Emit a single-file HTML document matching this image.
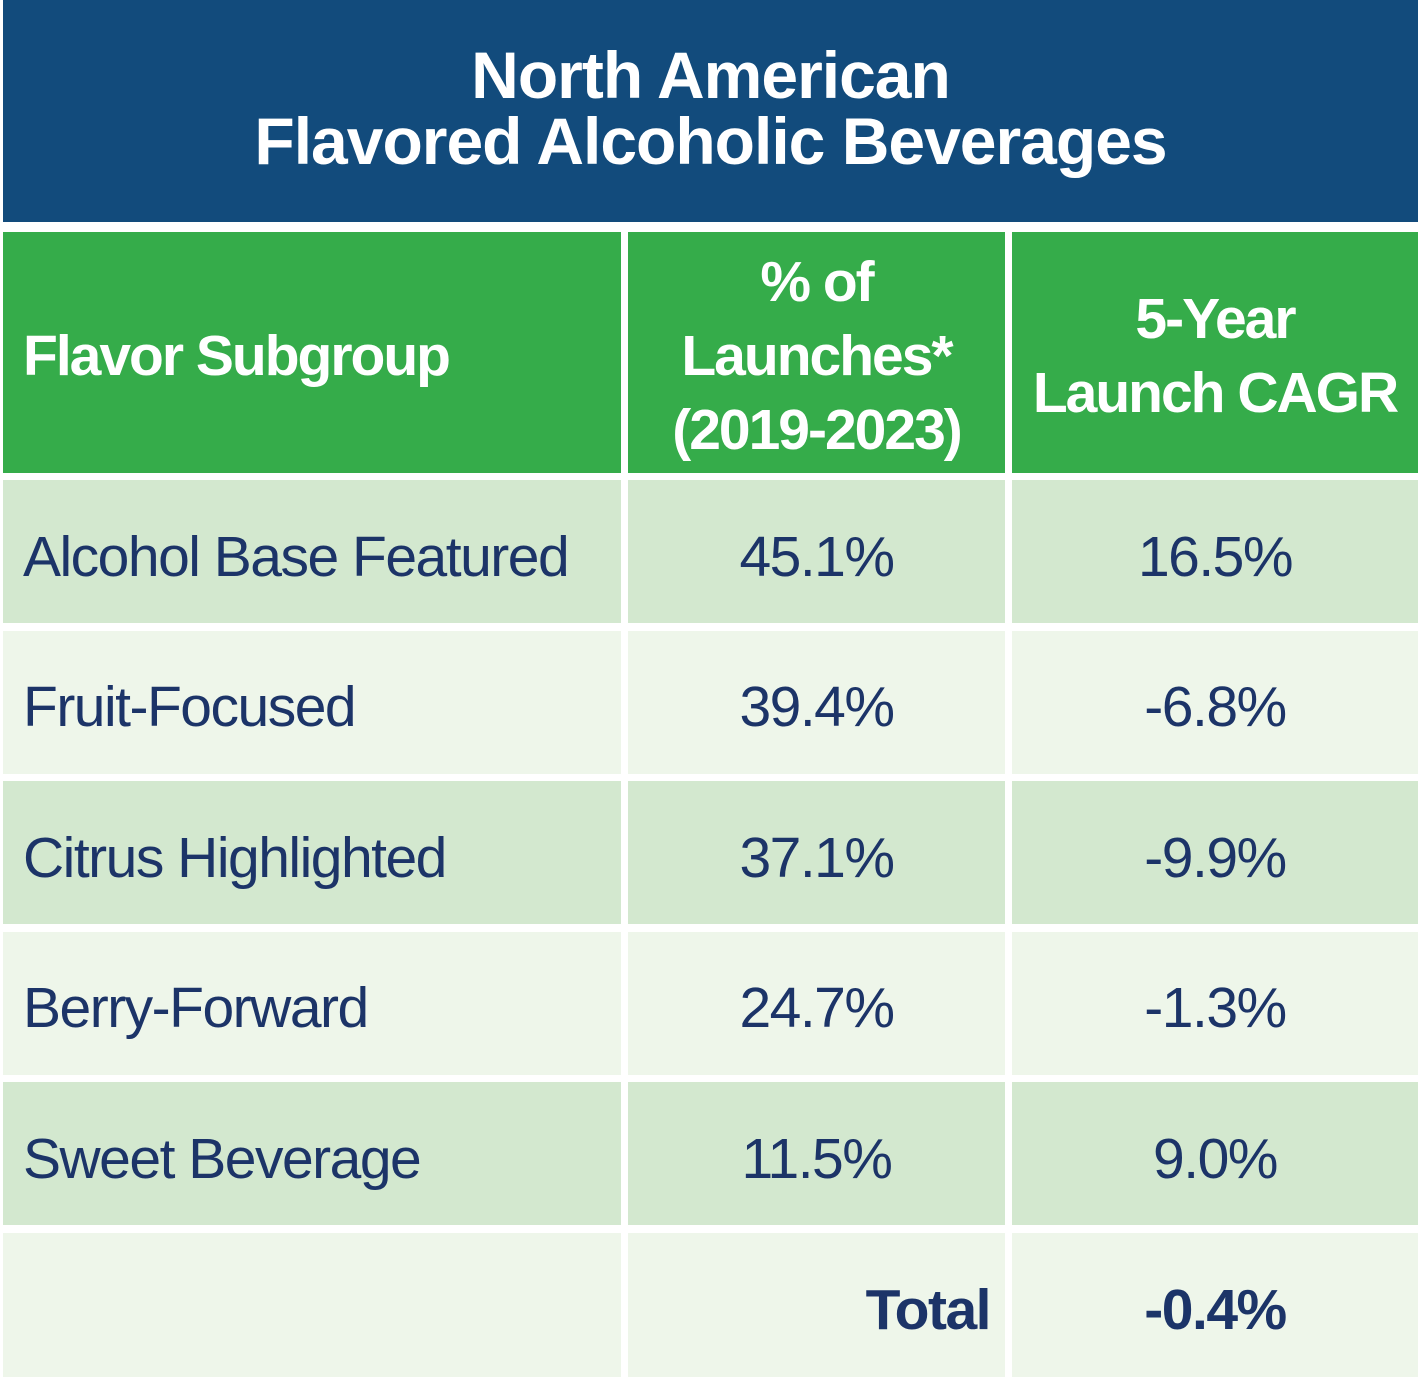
<!DOCTYPE html>
<html><head><meta charset="utf-8"><style>
body{margin:0;width:1428px;height:1384px;background:#fff;position:relative;overflow:hidden;font-family:"Liberation Sans",sans-serif;}
.c{position:absolute;display:flex;align-items:center;box-sizing:border-box;color:#1c3468;font-size:57px;letter-spacing:-1.5px;padding-top:10px;}
.h{background:#35ac4a;color:#fff;font-weight:bold;font-size:57px;line-height:74px;text-align:center;justify-content:center;letter-spacing:-2px;padding-top:6px;}
.l{padding-left:20px;}
.m{justify-content:center;}
.a{background:#d3e8cf;}
.b{background:#eef6ea;}
#title{position:absolute;left:3px;top:0;width:1415px;height:222px;background:#124b7c;color:#fff;font-weight:bold;font-size:66px;line-height:66px;text-align:center;display:flex;align-items:center;justify-content:center;letter-spacing:-1px;padding-bottom:6px;box-sizing:border-box;}
</style></head><body>
<div id="title">North American<br>Flavored Alcoholic Beverages</div>
<div class="c h l" style="left:3px;top:232px;width:618px;height:241px;justify-content:flex-start;">Flavor Subgroup</div>
<div class="c h" style="left:628px;top:232px;width:377px;height:241px;">% of<br>Launches*<br>(2019-2023)</div>
<div class="c h" style="left:1012px;top:232px;width:406px;height:241px;">5-Year<br>Launch CAGR</div>
<div id="rows"></div>
<script>
const subgroups=["Alcohol Base Featured","Fruit-Focused","Citrus Highlighted","Berry-Forward","Sweet Beverage"];
const shares=["45.1%","39.4%","37.1%","24.7%","11.5%"];
const cagrs=["16.5%","-6.8%","-9.9%","-1.3%","9.0%"];
const totalCagr="-0.4%";
const rows=document.getElementById('rows');
function cell(cls,x,y,w,h,txt,name){
  const d=document.createElement('div');
  d.className='c '+cls;
  d.style.cssText=`left:${x}px;top:${y}px;width:${w}px;height:${h}px;`;
  d.textContent=txt;
  
  
  rows.appendChild(d);return d;
}
subgroups.forEach((s,i)=>{
  const y=480+i*150.5, bg=i%2?'b':'a';
  cell('l '+bg,3,y,618,143,s,'row-label');
  cell('m '+bg,628,y,377,143,shares[i],'share-value');
  cell('m '+bg,1012,y,406,143,cagrs[i],'cagr-value');
});
cell('b',3,1233,618,144,'','total-empty-cell');
const t=cell('b',628,1233,377,144,'Total','total-label');
t.style.justifyContent='flex-end';t.style.paddingRight='15px';t.style.fontWeight='bold';
const tv=cell('m b',1012,1233,406,144,totalCagr,'total-cagr');
tv.style.fontWeight='bold';
</script>
</body></html>
